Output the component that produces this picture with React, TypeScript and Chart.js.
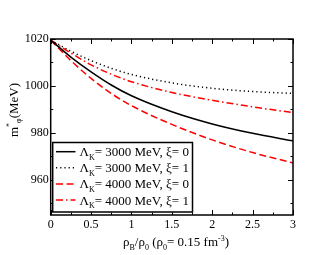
import React, { useEffect, useRef } from "react";
import { Chart, registerables } from "chart.js";
Chart.register(...registerables);

const rho = [0, 0.25, 0.5, 0.75, 1, 1.5, 2, 2.5, 3];
const lam3000xi0 = [1019.5, 1012.3, 1006.0, 1000.4, 995.8, 989.0, 983.8, 979.8, 976.6];
const lam3000xi1 = [1019.5, 1014.8, 1010.8, 1007.5, 1004.9, 1001.3, 999.0, 997.6, 996.8];
const lam4000xi0 = [1019.5, 1010.8, 1003.2, 996.8, 991.6, 983.6, 977.0, 971.6, 967.2];
const lam4000xi1 = [1019.5, 1014.0, 1009.0, 1005.0, 1001.8, 997.2, 993.9, 991.1, 988.6];

const seriesLabels = ["3000", "3000", "4000", "4000"];
const seriesXi = ["0", "1", "0", "1"];

const xMajor = [0, 0.5, 1, 1.5, 2, 2.5, 3];
const xMinor = [0.25, 0.75, 1.25, 1.75, 2.25, 2.75];
const yMajor = [960, 980, 1000, 1020];
const yMinor = [950, 970, 990, 1010];

const SERIF = "'Liberation Serif', 'Times New Roman', serif";

type Seg = { t: string; m?: "sub" | "sup" };

function richWidth(ctx: CanvasRenderingContext2D, segs: Seg[], size: number) {
  let w = 0;
  for (const s of segs) {
    ctx.font = `${s.m ? Math.round(size * 0.65) : size}px ${SERIF}`;
    w += ctx.measureText(s.t).width;
  }
  return w;
}

function drawRich(ctx: CanvasRenderingContext2D, segs: Seg[], x: number, y: number, size: number) {
  let cx = x;
  for (const s of segs) {
    const fs = s.m ? Math.round(size * 0.65) : size;
    ctx.font = `${fs}px ${SERIF}`;
    const dy = s.m === "sub" ? size * 0.3 : s.m === "sup" ? -size * 0.42 : 0;
    ctx.fillText(s.t, cx, y + dy);
    cx += ctx.measureText(s.t).width;
  }
}

const styles = [
  { color: "#000000", dash: [] as number[] },
  { color: "#000000", dash: [1.2, 3] },
  { color: "#ff0000", dash: [7, 3.5] },
  { color: "#ff0000", dash: [7, 3, 1.5, 3] },
];

const decor = {
  id: "decor",
  afterDraw(chart: any) {
    const ctx: CanvasRenderingContext2D = chart.ctx;
    const { left, right, top, bottom } = chart.chartArea;
    const xs = chart.scales.x;
    const ys = chart.scales.y;
    ctx.save();
    ctx.strokeStyle = "#000";
    ctx.fillStyle = "#000";
    ctx.lineWidth = 1;
    const tick = (vals: number[], len: number) => {
      for (const v of vals) {
        const px = Math.round(xs.getPixelForValue(v)) + 0.5;
        ctx.beginPath();
        ctx.moveTo(px, bottom);
        ctx.lineTo(px, bottom - len);
        ctx.moveTo(px, top);
        ctx.lineTo(px, top + len);
        ctx.stroke();
      }
    };
    const ytick = (vals: number[], len: number) => {
      for (const v of vals) {
        const py = Math.round(ys.getPixelForValue(v)) + 0.5;
        ctx.beginPath();
        ctx.moveTo(left, py);
        ctx.lineTo(left + len, py);
        ctx.moveTo(right, py);
        ctx.lineTo(right - len, py);
        ctx.stroke();
      }
    };
    tick(xMajor, 5);
    tick(xMinor, 2.5);
    ytick(yMajor, 5);
    ytick(yMinor, 2.5);
    ctx.lineWidth = 1.5;
    ctx.strokeRect(left, top, right - left, bottom - top);

    // legend
    const lx0 = left + 2, ly0 = 142.5, lx1 = 192.5, ly1 = bottom - 3;
    ctx.fillStyle = "#fff";
    ctx.fillRect(lx0, ly0, lx1 - lx0, ly1 - ly0);
    ctx.strokeStyle = "#000";
    ctx.lineWidth = 1.5;
    ctx.strokeRect(lx0, ly0, lx1 - lx0, ly1 - ly0);
    for (let i = 0; i < 4; i++) {
      const ry = 151.7 + i * 16.1;
      ctx.strokeStyle = styles[i].color;
      ctx.lineWidth = 1.5;
      ctx.setLineDash(styles[i].dash);
      ctx.beginPath();
      ctx.moveTo(56, ry);
      ctx.lineTo(75.5, ry);
      ctx.stroke();
      ctx.setLineDash([]);
      ctx.fillStyle = "#000";
      ctx.textAlign = "left";
      ctx.textBaseline = "alphabetic";
      drawRich(
        ctx,
        [
          { t: "\u039B" },
          { t: "K", m: "sub" },
          { t: `= ${seriesLabels[i]} MeV, \u03BE= ${seriesXi[i]}` },
        ],
        79.5,
        ry + 4.5,
        13
      );
    }

    // x title
    const xt: Seg[] = [
      { t: "\u03C1" },
      { t: "B", m: "sub" },
      { t: "/\u03C1" },
      { t: "0", m: "sub" },
      { t: " (\u03C1" },
      { t: "0", m: "sub" },
      { t: "= 0.15 fm" },
      { t: "-3", m: "sup" },
      { t: ")" },
    ];
    ctx.fillStyle = "#000";
    const wx = richWidth(ctx, xt, 13);
    drawRich(ctx, xt, 176 - wx / 2, 246, 13);

    // y title
    const yt: Seg[] = [{ t: "m" }, { t: "*", m: "sup" }, { t: "\u03C6", m: "sub" }, { t: "(MeV)" }];
    const wy = richWidth(ctx, yt, 13);
    ctx.translate(13, 110);
    ctx.rotate(-Math.PI / 2);
    drawRich(ctx, yt, -wy / 2, 4.5, 13);
    ctx.restore();
  },
};

export default function App() {
  const ref = useRef<HTMLCanvasElement>(null);
  useEffect(() => {
    if (!ref.current) return;
    const all = [lam3000xi0, lam3000xi1, lam4000xi0, lam4000xi1];
    const chart = new Chart(ref.current, {
      type: "line",
      data: {
        datasets: all.map((arr, i) => ({
          label: `\u039BK= ${seriesLabels[i]} MeV, \u03BE= ${seriesXi[i]}`,
          data: rho.map((r, j) => ({ x: r, y: arr[j] })),
          borderColor: styles[i].color,
          borderDash: styles[i].dash,
          borderWidth: 1.5,
          pointRadius: 0,
          cubicInterpolationMode: "monotone" as const,
          fill: false,
        })),
      },
      options: {
        responsive: false,
        animation: false,
        layout: { padding: { top: 39, right: 37, left: 0, bottom: 0 } },
        plugins: { legend: { display: false }, tooltip: { enabled: false } },
        scales: {
          x: {
            type: "linear",
            min: 0,
            max: 3,
            afterBuildTicks: (s: any) => {
              s.ticks = xMajor.map((v) => ({ value: v }));
            },
            afterFit: (s: any) => {
              s.height = 40;
            },
            grid: { display: false, drawTicks: false },
            border: { display: false },
            ticks: {
              padding: 3,
              color: "#000",
              font: { family: SERIF, size: 12 },
              maxRotation: 0,
              callback: (v: any) => String(v),
            },
          },
          y: {
            type: "linear",
            min: 945,
            max: 1020,
            afterBuildTicks: (s: any) => {
              s.ticks = yMajor.map((v) => ({ value: v }));
            },
            afterFit: (s: any) => {
              s.width = 50.7;
            },
            grid: { display: false, drawTicks: false },
            border: { display: false },
            ticks: {
              padding: 2,
              color: "#000",
              font: { family: SERIF, size: 12 },
              callback: (v: any) => String(v),
            },
          },
        },
      },
      plugins: [decor],
    });
    return () => chart.destroy();
  }, []);
  return (
    <div style={{ position: "fixed", left: 0, top: 0, width: 330, height: 255, background: "#fff" }}>
      <canvas ref={ref} width={330} height={255} style={{ width: 330, height: 255, display: "block" }} />
    </div>
  );
}
